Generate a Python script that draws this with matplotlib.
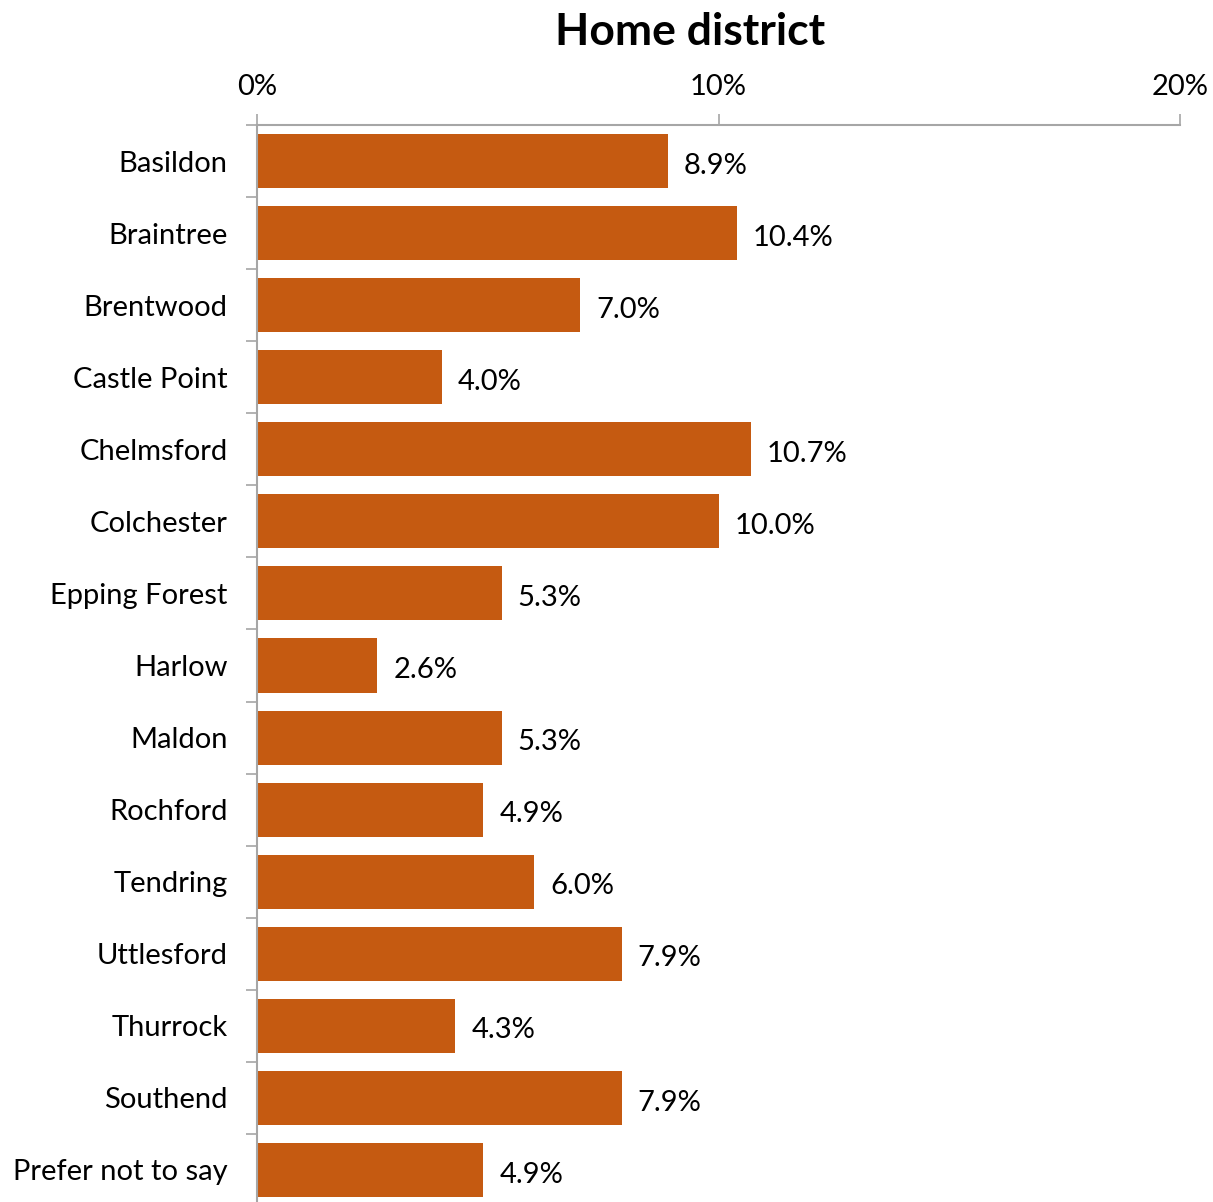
import numpy as np
import matplotlib.pyplot as plt
from matplotlib.ticker import FuncFormatter

plt.rcParams['font.family'] = ['Lato', 'DejaVu Sans']

districts = ['Basildon', 'Braintree', 'Brentwood', 'Castle Point', 'Chelmsford',
             'Colchester', 'Epping Forest', 'Harlow', 'Maldon', 'Rochford',
             'Tendring', 'Uttlesford', 'Thurrock', 'Southend', 'Prefer not to say']
shares = [8.9, 10.4, 7.0, 4.0, 10.7, 10.0, 5.3, 2.6, 5.3, 4.9, 6.0, 7.9, 4.3, 7.9, 4.9]

bar_col = '#C55A11'
axis_col = '#A6A6A6'

fig = plt.figure(figsize=(12.13, 12.02), dpi=100)
# axes box in pixels: left 257, right 1180, top 125, bottom 1206 (just off the canvas)
W, H = 1213, 1202
ax = fig.add_axes([257 / W, 1 - 1206 / H, (1180 - 257) / W, (1206 - 125) / H])

y = np.arange(len(districts))
ax.barh(y, shares, height=0.75, color=bar_col)

for yi, v in zip(y, shares):
    ax.text(v + 0.35, yi + 0.03, '%.1f%%' % v, va='center_baseline', ha='left',
            fontsize=21, color='black')

ax.set_xlim(0, 20)
ax.set_ylim(len(districts) - 0.5, -0.5)

ax.xaxis.tick_top()
ax.set_xticks([0, 10, 20])
ax.xaxis.set_major_formatter(FuncFormatter(lambda v, p: '%d%%' % v))
ax.tick_params(axis='x', direction='out', length=8, width=1.2, color=axis_col,
               labelsize=21, pad=10)

# category labels sit at bar centres, ticks mark the boundaries between them
ax.set_yticks(np.arange(len(districts) + 1) - 0.5)
ax.set_yticklabels([])
ax.set_yticks(y, minor=True)
ax.set_yticklabels(districts, minor=True, fontsize=21)
ax.tick_params(axis='y', which='major', direction='out', length=8, width=1.2, color=axis_col)
ax.tick_params(axis='y', which='minor', length=0, pad=21)

for s in ['right', 'bottom']:
    ax.spines[s].set_visible(False)
for s in ['top', 'left']:
    ax.spines[s].set_color(axis_col)
    ax.spines[s].set_linewidth(1.5)

fig.text(690 / W, 1 - 32 / H, 'Home district', ha='center', va='center',
         fontsize=32, fontweight='bold')

fig.savefig('out.png', dpi=100)
